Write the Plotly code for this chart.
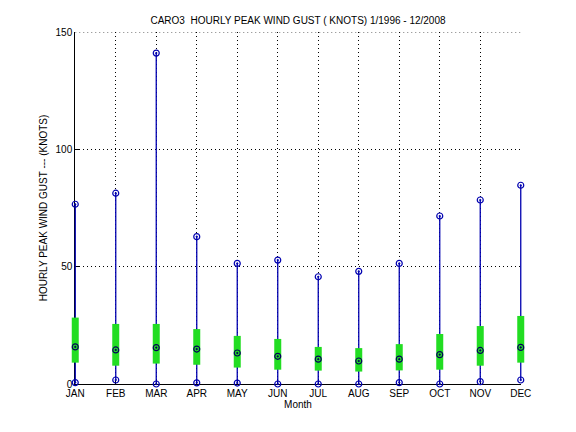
import plotly.graph_objs as go

# monthly stats (knots)
months = ['JAN', 'FEB', 'MAR', 'APR', 'MAY', 'JUN', 'JUL', 'AUG', 'SEP', 'OCT', 'NOV', 'DEC']
month_num = list(range(1, 13))
gust_max = [76.6, 81.3, 141.0, 62.8, 51.4, 52.8, 45.7, 48.0, 51.4, 71.6, 78.4, 84.7]
gust_min = [0.6, 1.7, 0.0, 0.5, 0.4, 0.0, 0.0, 0.0, 0.6, 0.0, 1.0, 1.7]
gust_mean = [15.8, 14.5, 15.5, 14.9, 13.2, 11.8, 10.6, 9.8, 10.6, 12.5, 14.3, 15.6]
box_high = [28.3, 25.6, 25.6, 23.4, 20.5, 19.2, 15.8, 15.3, 17.0, 21.3, 24.7, 29.0]
box_low = [9.1, 7.8, 8.7, 8.2, 7.0, 6.1, 5.7, 5.3, 5.8, 6.1, 7.8, 9.1]
y_ticks = [0, 50, 100, 150]

BLUE = '#0000b0'
GREEN = '#22dd22'
FONT = 'Liberation Sans, Arial, Helvetica, sans-serif'
DOTS = '1px,3px'


def segments(xs, lo, hi):
    """Builds x/y lists of vertical segments separated by None."""
    sx, sy = [], []
    for x, a, b in zip(xs, lo, hi):
        sx += [x, x, None]
        sy += [a, b, None]
    return sx, sy


fig = go.Figure()

# empty trace so the visible axes get their own subplot
fig.add_trace(go.Scatter(x=[], y=[], showlegend=False, hoverinfo='skip'))

# data goes on a slightly wider hidden subplot so edge marks are not clipped
lx, ly = segments(month_num, gust_min, gust_max)
fig.add_trace(go.Scatter(x=lx, y=ly, mode='lines', xaxis='x2', yaxis='y2',
                         line=dict(color=BLUE, width=1.3), showlegend=False))

bx, by = segments(month_num, box_low, box_high)
fig.add_trace(go.Scatter(x=bx, y=by, mode='lines', xaxis='x2', yaxis='y2',
                         line=dict(color=GREEN, width=7), showlegend=False))

for vals, col in [(gust_min, BLUE), (gust_max, BLUE), (gust_mean, '#00005a')]:
    fig.add_trace(go.Scatter(x=month_num, y=vals, mode='markers', xaxis='x2', yaxis='y2',
                             cliponaxis=False, showlegend=False,
                             marker=dict(symbol='circle-open-dot', size=6, color=col,
                                         line=dict(width=1.2, color=col))))

# top border is a dotted grid line in the original
fig.add_shape(type='line', xref='x', yref='y', x0=1, x1=12, y0=y_ticks[-1], y1=y_ticks[-1],
              line=dict(color='black', width=1, dash=DOTS), layer='below')

fig.update_layout(
    width=576, height=432,
    paper_bgcolor='white', plot_bgcolor='rgba(0,0,0,0)',
    margin=dict(l=55, r=35, t=32, b=48),
    font=dict(family=FONT, size=10, color='black'),
    title=dict(text='CARO3  HOURLY PEAK WIND GUST ( KNOTS) 1/1996 - 12/2008',
               x=298 / 576, xref='container', xanchor='center',
               y=1 - 20 / 432, yref='container', yanchor='middle',
               font=dict(size=10)),
    xaxis=dict(domain=[1 / 24, 23 / 24], range=[1, 12], anchor='y',
               tickvals=month_num, ticktext=months,
               showline=True, linecolor='black', linewidth=1, mirror=False,
               ticks='inside', ticklen=5, tickcolor='black',
               showgrid=True, gridcolor='black', gridwidth=1, griddash=DOTS,
               zeroline=False,
               title=dict(text='Month', standoff=2, font=dict(size=10))),
    yaxis=dict(range=[0, 150], anchor='x',
               tickvals=y_ticks,
               showline=True, linecolor='black', linewidth=1, mirror=False,
               ticks='inside', ticklen=5, tickcolor='black',
               showgrid=True, gridcolor='black', gridwidth=1, griddash=DOTS,
               zeroline=False,
               title=dict(text='HOURLY PEAK WIND GUST --- (KNOTS)', standoff=6,
                          font=dict(size=10))),
    xaxis2=dict(domain=[0, 1], range=[0.5, 12.5], anchor='y2', visible=False),
    yaxis2=dict(domain=[0, 1], range=[0, 150], anchor='x2', visible=False),
)

fig.write_html("out.html", config={'displayModeBar': False},
               post_script="document.body.style.margin='0';")
